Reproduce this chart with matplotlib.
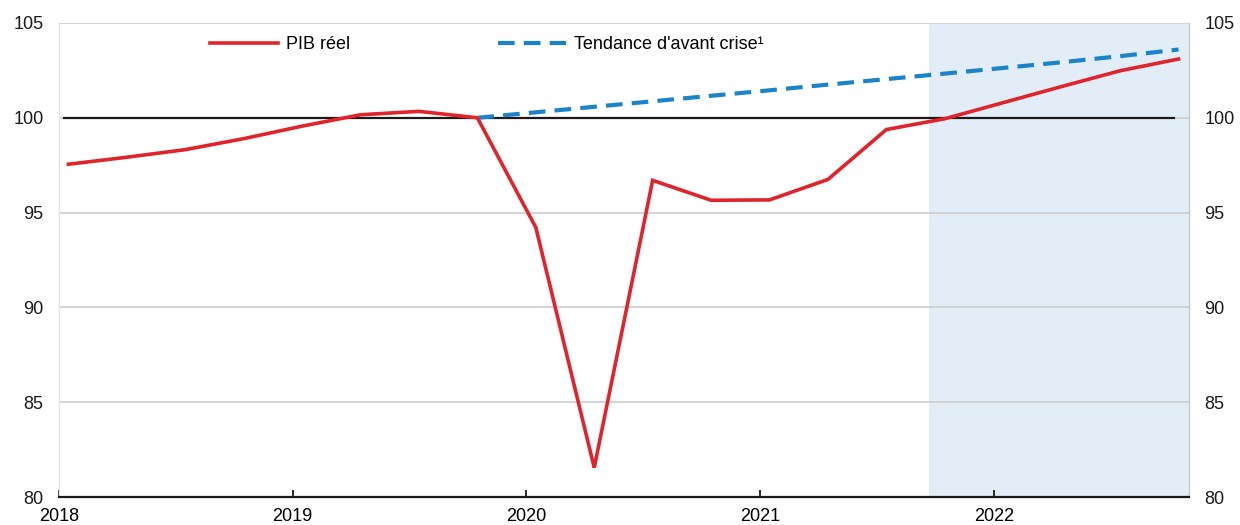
import matplotlib.pyplot as plt

plt.rcParams["font.family"] = ["Liberation Sans", "DejaVu Sans"]

# quarterly data, 2018Q1 - 2022Q4
years = [2018] * 4 + [2019] * 4 + [2020] * 4 + [2021] * 4 + [2022] * 4
quarters = [1, 2, 3, 4] * 5
pib_reel = [97.55, 97.92, 98.32, 98.9, 99.56, 100.16, 100.34, 100.0,
            94.22, 81.55, 96.7, 95.65, 95.67, 96.75, 99.38, 99.95,
            100.8, 101.65, 102.48, 103.1]
# trend starts at 2019Q4
tendance = [100.0, 100.29, 100.58, 100.87, 101.16, 101.45, 101.75,
            102.04, 102.33, 102.63, 102.93, 103.25, 103.6]

x = [y + (q - 1) / 4 + 0.04 for y, q in zip(years, quarters)]
x_trend = x[7:]

red = "#E1232B"
blue = "#1B83C9"
grid_color = "#C9C9C9"

fig = plt.figure(figsize=(12.4, 5.25), dpi=100)
ax = fig.add_axes([0.0476, 0.0533, 0.9113, 0.9029])

ax.axvspan(2021.723, 2022.84, color="#E3EDF7", zorder=0, lw=0)
for yv in [85, 90, 95, 100, 105]:
    ax.axhline(yv, color=grid_color, lw=1.1, zorder=1)
ax.plot([2018.02, 2022.77], [100, 100], color="#1a1a1a", lw=1.6, zorder=2)

ax.plot(x, pib_reel, color=red, lw=2.6, zorder=4, label="PIB réel",
        solid_joinstyle="miter")
ax.plot(x_trend, tendance, color=blue, lw=3.0, ls=(0, (4, 2.2)), zorder=3,
        label="Tendance d'avant crise\u00b9")

ax.set_xlim(2018, 2022.835)
ax.set_ylim(80, 105)
ax.set_yticks([80, 85, 90, 95, 100, 105])
ax.set_xticks([2018, 2019, 2020, 2021, 2022])
ax.set_xticklabels(["2018", "2019", "2020", "2021", "2022"])

ax.spines["top"].set_visible(False)
ax.spines["left"].set_color("#E4E4E4")
ax.spines["right"].set_color(grid_color)
ax.spines["left"].set_linewidth(1)
ax.spines["right"].set_linewidth(1)
ax.spines["bottom"].set_color("#1a1a1a")
ax.spines["bottom"].set_linewidth(1.6)
ax.spines["bottom"].set_zorder(5)

ax.tick_params(axis="x", direction="in", length=5, width=1.3, pad=8,
               labelsize=13, color="#1a1a1a")
ax.tick_params(axis="y", length=0, labelsize=13, pad=11,
               labelleft=True, labelright=True)
for lab in ax.get_yticklabels():
    lab.set_color("#1a1a1a")

leg = ax.legend(loc="center left", bbox_to_anchor=(0.134, 0.954), ncol=2,
                frameon=False, fontsize=13, handlelength=3.75,
                handletextpad=0.45, columnspacing=8.2, borderaxespad=0,
                borderpad=0)

fig.savefig("out.png", dpi=100)
